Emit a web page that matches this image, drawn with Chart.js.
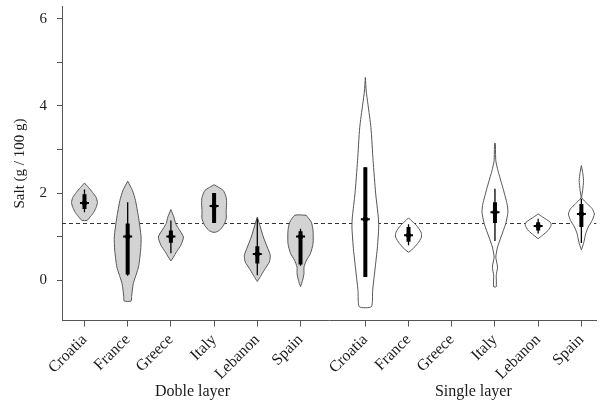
<!DOCTYPE html>
<html>
<head>
<meta charset="utf-8">
<script src="https://cdn.jsdelivr.net/npm/chart.js@4.4.1/dist/chart.umd.min.js"></script>
<style>
  html, body { margin: 0; padding: 0; background: #fff; }
  #wrap { width: 603px; height: 405px; }
</style>
</head>
<body>
<div id="wrap"><canvas id="chart"></canvas></div>
<script>
// categories and where they sit on the x axis (gap between the two groups)
const categories = ["Croatia", "France", "Greece", "Italy", "Lebanon", "Spain",
                    "Croatia", "France", "Greece", "Italy", "Lebanon", "Spain"];
const positions = [0, 1, 2, 3, 4, 5, 6.5, 7.5, 8.5, 9.5, 10.5, 11.5];
const groupLabels = ["Doble layer", "Single layer"];
const yTicks = [0, 1, 2, 3, 4, 5, 6];
const referenceLine = 1.3;

// violin outlines: [salt value, half width]
const dobleCroatia = [[2.23, 0], [2.13, 0.09], [2.01, 0.19], [1.9, 0.27], [1.78, 0.3], [1.67, 0.27], [1.55, 0.21], [1.46, 0.14], [1.39, 0.08], [1.37, 0.06]];
const dobleFrance = [[2.27, 0], [2.06, 0.11], [1.83, 0.18], [1.45, 0.25], [0.99, 0.31], [0.69, 0.3], [0.3, 0.25], [-0.08, 0.13], [-0.38, 0.09], [-0.48, 0.08]];
const dobleGreece = [[1.62, 0], [1.45, 0.07], [1.3, 0.11], [1.18, 0.18], [0.99, 0.29], [0.8, 0.23], [0.65, 0.13], [0.53, 0.06], [0.44, 0]];
const dobleItaly = [[2.19, 0], [2.06, 0.21], [1.9, 0.28], [1.75, 0.29], [1.6, 0.28], [1.41, 0.28], [1.26, 0.22], [1.14, 0.12], [1.1, 0.03]];
const dobleLebanon = [[1.45, 0], [1.22, 0.07], [0.99, 0.14], [0.76, 0.23], [0.57, 0.3], [0.42, 0.28], [0.23, 0.16], [0.08, 0.07], [-0.03, 0]];
const dobleSpain = [[1.49, 0.13], [1.33, 0.25], [1.14, 0.29], [0.84, 0.29], [0.61, 0.23], [0.46, 0.14], [0.3, 0.08], [0.15, 0.08], [0, 0.05], [-0.15, 0]];
const singleCroatia = [[4.65, 0], [4.34, 0.02], [4.04, 0.06], [3.5, 0.13], [2.74, 0.18], [1.98, 0.24], [1.45, 0.3], [1.22, 0.31], [0.76, 0.28], [0.3, 0.23], [-0.23, 0.17], [-0.61, 0.14]];
const singleFrance = [[1.43, 0], [1.37, 0.06], [1.26, 0.18], [1.1, 0.29], [0.99, 0.3], [0.84, 0.21], [0.69, 0.07], [0.64, 0]];
const singleGreece = null;
const singleItaly = [[3.14, 0.01], [2.74, 0.02], [2.51, 0.07], [2.13, 0.18], [1.75, 0.28], [1.56, 0.3], [1.3, 0.25], [0.99, 0.14], [0.76, 0.06], [0.53, 0.02], [0.3, 0.06], [0.11, 0.03], [-0.15, 0.03]];
const singleLebanon = [[1.52, 0], [1.45, 0.1], [1.33, 0.28], [1.26, 0.3], [1.14, 0.23], [1.03, 0.1], [0.95, 0]];
const singleSpain = [[2.63, 0], [2.47, 0.03], [2.29, 0.05], [2.06, 0.03], [1.89, 0.01], [1.75, 0.14], [1.64, 0.25], [1.52, 0.3], [1.37, 0.25], [1.22, 0.16], [1.07, 0.1], [0.88, 0.06], [0.69, 0]];

const violins = [dobleCroatia, dobleFrance, dobleGreece, dobleItaly, dobleLebanon, dobleSpain,
                 singleCroatia, singleFrance, singleGreece, singleItaly, singleLebanon, singleSpain];

// box summaries, same order as categories (null = no data)
const medians   = [1.77, 1.0, 1.0, 1.7, 0.6, 1.0, 1.4, 1.03, null, 1.56, 1.24, 1.52];
const q1        = [1.63, 0.13, 0.86, 1.31, 0.38, 0.36, 0.07, 0.88, null, 1.31, 1.14, 1.22];
const q3        = [1.97, 1.3, 1.14, 2.0, 0.78, 1.12, 2.59, 1.22, null, 1.79, 1.33, 1.75];
const whiskerLo = [1.56, 0.1, 0.62, 1.31, 0.11, 0.33, 0.07, 0.8, null, 0.9, 1.07, 0.85];
const whiskerHi = [2.08, 1.79, 1.37, 2.0, 1.41, 1.18, 2.59, 1.28, null, 2.1, 1.41, 1.87];

const xMin = -0.52, xMax = 11.85;
const yMin = -0.926, yMax = 6.28;
const serif = "'Liberation Serif', 'Times New Roman', serif";
const ink = "#1a1a1a";
const edge = "#555";

const datasets = [];

// median markers on top
medians.forEach((m, i) => {
  if (m === null) return;
  datasets.push({ data: [{ x: positions[i], y: m }], pointStyle: "circle", pointRadius: 2.6,
    backgroundColor: "#000", borderColor: "#000", borderWidth: 0, order: 0 });
  datasets.push({ data: [{ x: positions[i], y: m }], pointStyle: "line", pointRadius: 4.5,
    borderColor: "#000", borderWidth: 2, order: 0 });
});

// thick interquartile bars
q1.forEach((lo, i) => {
  if (lo === null) return;
  datasets.push({ data: [{ x: positions[i], y: lo }, { x: positions[i], y: q3[i] }],
    showLine: true, pointRadius: 0, borderColor: "#000", borderWidth: 4, borderCapStyle: "butt", order: 1 });
});

// thin whiskers
whiskerLo.forEach((lo, i) => {
  if (lo === null) return;
  datasets.push({ data: [{ x: positions[i], y: lo }, { x: positions[i], y: whiskerHi[i] }],
    showLine: true, pointRadius: 0, borderColor: "#000", borderWidth: 1.3, order: 2 });
});

// violin shapes
violins.forEach((prof, i) => {
  if (!prof) return;
  const right = prof.map(([y, w]) => ({ x: positions[i] + w, y }));
  const left = prof.slice().reverse().map(([y, w]) => ({ x: positions[i] - w, y }));
  const pts = right.concat(left);
  pts.push(pts[0]);
  datasets.push({ data: pts, showLine: true, pointRadius: 0, tension: 0.2,
    borderColor: edge, borderWidth: 1,
    backgroundColor: i < 6 ? "#d3d3d3" : "#ffffff", fill: "shape", order: 3 });
});

// dotted reference line underneath
datasets.push({ data: [{ x: xMin, y: referenceLine }, { x: xMax, y: referenceLine }],
  showLine: true, pointRadius: 0, borderColor: "#333", borderWidth: 1.1, borderDash: [4, 3], order: 4 });

const groupLabelPlugin = {
  id: "groupLabels",
  afterDraw(chart) {
    const ctx = chart.ctx;
    const x = chart.scales.x;
    const centers = [(positions[0] + positions[5]) / 2, (positions[6] + positions[11]) / 2];
    ctx.save();
    ctx.font = "16px " + serif;
    ctx.fillStyle = ink;
    ctx.textAlign = "center";
    ctx.textBaseline = "middle";
    centers.forEach((c, i) => ctx.fillText(groupLabels[i], x.getPixelForValue(c), 392));
    ctx.restore();
  }
};

new Chart(document.getElementById("chart"), {
  type: "scatter",
  data: { datasets },
  plugins: [groupLabelPlugin],
  options: {
    responsive: true,
    maintainAspectRatio: false,
    animation: false,
    layout: { padding: { left: 0, right: 3, top: 5, bottom: 0 } },
    plugins: { legend: { display: false }, tooltip: { enabled: false } },
    scales: {
      x: {
        type: "linear",
        min: xMin,
        max: xMax,
        afterBuildTicks: (scale) => { scale.ticks = positions.map(v => ({ value: v })); },
        afterFit: (scale) => {
          scale.height = 84.5;
          scale.paddingLeft = 0;
          scale.paddingRight = 0;
        },
        grid: { display: true, drawOnChartArea: false, drawTicks: true, tickLength: 6, color: edge },
        border: { display: true, color: edge, width: 1 },
        ticks: {
          autoSkip: false,
          minRotation: 45,
          maxRotation: 45,
          padding: 4,
          color: ink,
          font: { family: serif, size: 16 },
          callback: (value, index) => categories[index]
        }
      },
      y: {
        min: yMin,
        max: yMax,
        afterBuildTicks: (scale) => { scale.ticks = yTicks.map(v => ({ value: v })); },
        afterFit: (scale) => {
          scale.width = 62;
          scale.paddingTop = 0;
          scale.paddingBottom = 0;
        },
        grid: { display: true, drawOnChartArea: false, drawTicks: true, tickLength: 5, color: edge },
        border: { display: true, color: edge, width: 1 },
        ticks: {
          padding: 10,
          color: ink,
          font: { family: serif, size: 15 },
          callback: (v) => (v % 2 === 0 ? String(v) : "")
        },
        title: {
          display: true,
          text: "Salt (g / 100 g)",
          color: ink,
          font: { family: serif, size: 15 },
          padding: { top: 11, bottom: 0 }
        }
      }
    }
  }
});
</script>
</body>
</html>
